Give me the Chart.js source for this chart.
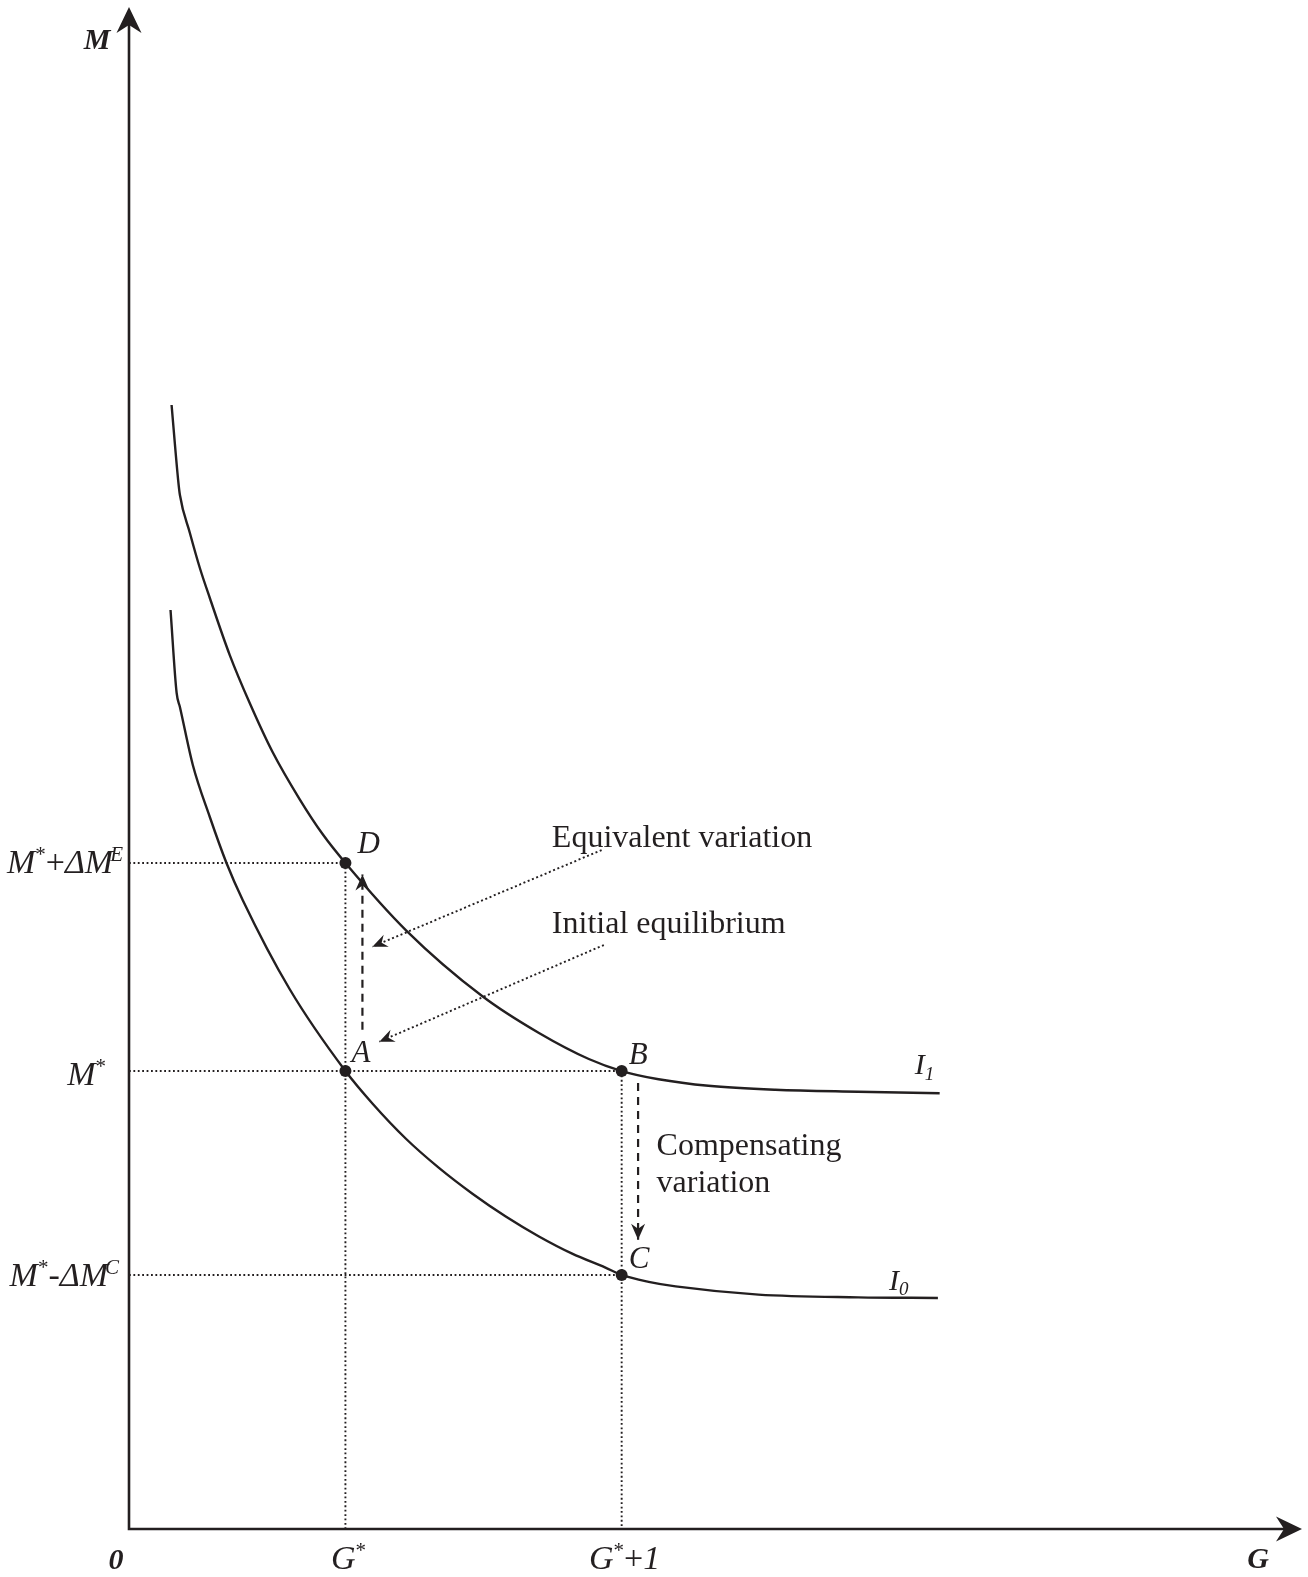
<!DOCTYPE html>
<html>
<head>
<meta charset="utf-8">
<title>Compensating and equivalent variation</title>
<script src="https://cdn.jsdelivr.net/npm/chart.js@4.4.1/dist/chart.umd.min.js"></script>
<style>
  html, body { margin: 0; padding: 0; background: #fff; overflow: hidden; }
  canvas { display: block; }
</style>
</head>
<body>
<canvas id="diagram" width="1308" height="1577"></canvas>
<script>
// levels marked on the axes (axis units run 0..100)
const gStar = 18.45;
const gStarPlusOne = 42.0;
const mStar = 30.09;
const mPlusE = 43.76;
const mMinusC = 16.69;

// indifference curve I1 (upper)
const i1G = [3.63, 4.19, 4.34, 5.19, 6.04, 6.89, 8.59, 10.29, 12.24, 14.54, 16.50, 18.45, 23.64, 30.10, 34.95, 39.20, 42.00, 45.15, 49.40, 55.10, 62.16, 69.11];
const i1M = [73.85, 68.92, 67.94, 65.44, 63.14, 61.17, 57.42, 54.27, 51.05, 47.96, 45.66, 43.76, 39.32, 35.02, 32.59, 30.88, 30.09, 29.55, 29.12, 28.86, 28.73, 28.63];

// indifference curve I0 (lower)
const i0G = [3.54, 4.06, 4.34, 5.44, 6.89, 8.31, 9.69, 13.69, 18.45, 20.77, 23.61, 26.45, 29.28, 32.12, 34.95, 37.78, 40.62, 42.00, 44.30, 46.60, 53.66, 62.16, 68.96];
const i0M = [60.38, 54.93, 54.01, 50.20, 46.78, 43.76, 41.33, 35.48, 30.09, 27.94, 25.64, 23.71, 22.03, 20.53, 19.22, 18.09, 17.17, 16.69, 16.24, 15.94, 15.40, 15.22, 15.18];

// equilibrium points
const pointNames = ['A', 'B', 'C', 'D'];
const pointG = [gStar, gStarPlusOne, gStarPlusOne, gStar];
const pointM = [mStar, mStar, mMinusC, mPlusE];

// dashed shift arrows (start -> tip)
const evShiftG = [19.9, 19.9];
const evShiftM = [32.8, 43.0];
const cvShiftG = [43.4, 43.4];
const cvShiftM = [29.3, 19.0];

// dotted pointer arrows from the notes (start -> tip)
const evPointerG = [40.29, 20.75];
const evPointerM = [44.61, 38.26];
const iePointerG = [40.48, 21.34];
const iePointerM = [38.37, 32.02];

// tick labels: [text, style, kerning]
const mTickValues = [mPlusE, mStar, mMinusC];
const mTickLabels = [
  [['M', 'i'], ['*', 'sup'], ['+', 'n'], ['\u0394', 'i'], ['M', 'i'], ['E', 'supi', -3]],
  [['M', 'i'], ['*', 'sup']],
  [['M', 'i'], ['*', 'sup'], ['-', 'n'], ['\u0394', 'i'], ['M', 'i'], ['C', 'supi', -3]]
];
const gTickValues = [gStar, gStarPlusOne];
const gTickLabels = [
  [['G', 'i'], ['*', 'sup']],
  [['G', 'i'], ['*', 'sup'], ['+', 'n'], ['1', 'i']]
];

// notes
const noteTexts = ['Equivalent variation', 'Initial equilibrium', 'Compensating', 'variation'];
const noteG = [36.05, 36.05, 44.98, 44.98];
const noteM = [44.81, 39.16, 24.57, 22.14];

const ink = '#231f20';
const serif = '"Liberation Serif", "Times New Roman", serif';

function fontFor(style, size) {
  if (style === 'i') return 'italic ' + size + 'px ' + serif;
  if (style === 'bi') return 'italic bold ' + size + 'px ' + serif;
  if (style === 'sup') return Math.round(size * 0.62) + 'px ' + serif;
  if (style === 'supi' || style === 'subi') return 'italic ' + Math.round(size * 0.62) + 'px ' + serif;
  return size + 'px ' + serif;
}

function shiftFor(style, size) {
  if (style === 'sup' || style === 'supi') return -size * 0.36;
  if (style === 'subi') return size * 0.18;
  return 0;
}

// draws mixed-style text on one baseline
function drawRich(ctx, parts, x, y, size, align) {
  let total = 0;
  const widths = parts.map(p => {
    ctx.font = fontFor(p[1], size);
    const w = ctx.measureText(p[0]).width + (p[2] || 0);
    total += w;
    return w;
  });
  let cx = align === 'right' ? x - total : align === 'center' ? x - total / 2 : x;
  ctx.textAlign = 'left';
  ctx.textBaseline = 'alphabetic';
  parts.forEach((p, i) => {
    ctx.font = fontFor(p[1], size);
    ctx.fillText(p[0], cx + (p[2] || 0), y + shiftFor(p[1], size));
    cx += widths[i];
  });
}

function arrowHead(ctx, x, y, ang, len, half, notch) {
  ctx.save();
  ctx.translate(x, y);
  ctx.rotate(ang);
  ctx.beginPath();
  ctx.moveTo(0, 0);
  ctx.lineTo(-len, -half);
  ctx.lineTo(-len + notch, 0);
  ctx.lineTo(-len, half);
  ctx.closePath();
  ctx.fill();
  ctx.restore();
}

function xy(gs, ms) {
  return gs.map((g, i) => ({ x: g, y: ms[i] }));
}

function curve(gs, ms) {
  return {
    data: xy(gs, ms), showLine: true, borderColor: ink, borderWidth: 2.4,
    pointRadius: 0, cubicInterpolationMode: 'monotone', order: 2
  };
}

function guide(gs, ms) {
  return {
    data: xy(gs, ms), showLine: true, borderColor: ink, borderWidth: 1.9,
    borderDash: [1.8, 2.6], pointRadius: 0, order: 4
  };
}

function dashed(gs, ms) {
  return {
    data: xy(gs, ms), showLine: true, borderColor: ink, borderWidth: 2.2,
    borderDash: [8, 6], pointRadius: 0, order: 3
  };
}

const arrowSets = [
  [evShiftG, evShiftM, 16, 7, 5],
  [cvShiftG, cvShiftM, 16, 7, 5],
  [evPointerG, evPointerM, 15, 6.5, 5],
  [iePointerG, iePointerM, 15, 6.5, 5]
];

const diagramPlugin = {
  id: 'diagram',
  afterDatasetsDraw(chart) {
    const ctx = chart.ctx;
    const xs = chart.scales.x;
    const ys = chart.scales.y;
    const px = v => xs.getPixelForValue(v);
    const py = v => ys.getPixelForValue(v);
    const ox = px(0);
    const oy = py(0);

    ctx.save();
    ctx.strokeStyle = ink;
    ctx.fillStyle = ink;

    // axes with arrowheads
    ctx.lineWidth = 2.6;
    ctx.lineCap = 'square';
    ctx.beginPath();
    ctx.moveTo(px(100) - 12, oy);
    ctx.lineTo(ox, oy);
    ctx.lineTo(ox, py(100) + 12);
    ctx.stroke();
    arrowHead(ctx, px(100), oy, 0, 26, 12.5, 8);
    arrowHead(ctx, ox, py(100), -Math.PI / 2, 26, 12.5, 8);

    // arrowheads on the shift and pointer arrows
    arrowSets.forEach(a => {
      const x0 = px(a[0][0]), y0 = py(a[1][0]);
      const x1 = px(a[0][1]), y1 = py(a[1][1]);
      arrowHead(ctx, x1, y1, Math.atan2(y1 - y0, x1 - x0), a[2], a[3], a[4]);
    });

    // axis titles and origin
    drawRich(ctx, [['M', 'bi']], ox - 32, py(100) + 42, 30, 'center');
    drawRich(ctx, [['G', 'bi']], px(100) - 44, oy + 39, 30, 'center');
    drawRich(ctx, [['0', 'bi']], ox - 13, oy + 40, 30, 'center');

    // tick labels
    const mRight = [123, 106, 119];
    const mDrop = [10, 14, 11];
    mTickLabels.forEach((parts, i) => {
      drawRich(ctx, parts, mRight[i], py(mTickValues[i]) + mDrop[i], 34, 'right');
    });
    gTickLabels.forEach((parts, i) => {
      drawRich(ctx, parts, px(gTickValues[i]) + 3, oy + 40, 34, 'center');
    });

    // point labels
    const labelDx = [6, 7, 7, 12];
    const labelDy = [-9, -7, -7, -10];
    pointNames.forEach((n, i) => {
      drawRich(ctx, [[n, 'i']], px(pointG[i]) + labelDx[i], py(pointM[i]) + labelDy[i], 31, 'left');
    });

    // curve names
    drawRich(ctx, [['I', 'i'], ['1', 'subi']], px(i1G[i1G.length - 1]) - 25, py(i1M[i1M.length - 1]) - 19, 30, 'left');
    drawRich(ctx, [['I', 'i'], ['0', 'subi']], px(i0G[i0G.length - 1]) - 49, py(i0M[i0M.length - 1]) - 8, 30, 'left');

    // notes
    noteTexts.forEach((t, i) => {
      drawRich(ctx, [[t, 'n']], px(noteG[i]), py(noteM[i]), 32, 'left');
    });

    ctx.restore();
  }
};

const ctx = document.getElementById('diagram').getContext('2d');
const chart = new Chart(ctx, {
  type: 'scatter',
  data: {
    datasets: [
      {
        data: xy(pointG, pointM), pointRadius: 6, pointHoverRadius: 6,
        pointBackgroundColor: ink, pointBorderWidth: 0, showLine: false, order: 0
      },
      curve(i1G, i1M),
      curve(i0G, i0M),
      guide([0, gStar], [mPlusE, mPlusE]),
      guide([0, gStarPlusOne], [mStar, mStar]),
      guide([0, gStarPlusOne], [mMinusC, mMinusC]),
      guide([gStar, gStar], [mPlusE, 0]),
      guide([gStarPlusOne, gStarPlusOne], [mStar, 0]),
      dashed(evShiftG, evShiftM),
      dashed(cvShiftG, cvShiftM),
      Object.assign(guide(evPointerG, evPointerM), { borderDash: [2, 2.6], borderWidth: 1.9 }),
      Object.assign(guide(iePointerG, iePointerM), { borderDash: [2, 2.6], borderWidth: 1.9 })
    ]
  },
  options: {
    responsive: false,
    animation: false,
    devicePixelRatio: 1,
    events: [],
    layout: { padding: { left: 129, right: 3, top: 7, bottom: 48 } },
    plugins: {
      legend: { display: false },
      tooltip: { enabled: false }
    },
    scales: {
      x: { type: 'linear', min: 0, max: 100, display: false },
      y: { type: 'linear', min: 0, max: 100, display: false }
    }
  },
  plugins: [diagramPlugin]
});
</script>
</body>
</html>
